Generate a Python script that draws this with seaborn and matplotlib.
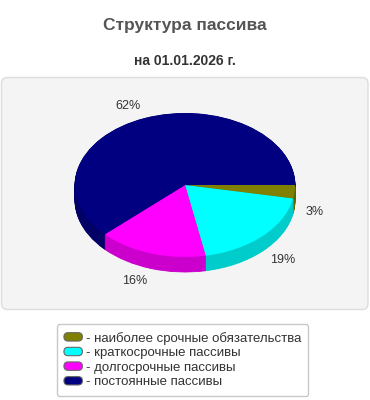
import numpy as np
import matplotlib
matplotlib.use("Agg")
import matplotlib.pyplot as plt
import seaborn as sns
from matplotlib.patches import FancyBboxPatch, Patch
from matplotlib.legend_handler import HandlerPatch

# ---- data ----
title = "Структура пассива"
subtitle = "на 01.01.2026 г."
categories = ["наиболее срочные обязательства", "краткосрочные пассивы",
              "долгосрочные пассивы", "постоянные пассивы"]
values = [3, 19, 16, 62]
top_colors = ["#808000", "#00FFFF", "#FF00FF", "#000080"]
side_colors = ["#666600", "#00CCCC", "#CC00CC", "#000066"]

sns.set_theme(style="white")
plt.rcParams["font.family"] = ["Liberation Sans", "DejaVu Sans"]

W, H = 370, 400
fig = plt.figure(figsize=(W / 100, H / 100), dpi=100)
fig.patch.set_facecolor("white")

# background axes in pixel coordinates
bg = fig.add_axes([0, 0, 1, 1])
bg.set_xlim(0, W)
bg.set_ylim(H, 0)
bg.axis("off")

bg.text(W / 2, 30, title, ha="center", va="baseline", fontsize=12.5,
        fontweight="bold", color="#555555")
bg.text(W / 2, 65, subtitle, ha="center", va="baseline", fontsize=10,
        fontweight="bold", color="#333333")

panel = FancyBboxPatch((1.5, 77.5), 366.5, 232, boxstyle="round,pad=0,rounding_size=6",
                       facecolor="#F4F4F4", edgecolor="#DDDDDD", linewidth=1)
bg.add_patch(panel)

# pie axes: 1 unit = 110 px horizontally, 72 px vertically, centre at (185, 185)
ax = fig.add_axes([0, 0, 1, 1])
ax.patch.set_alpha(0)
rx, ry = 110.0, 72.0
cx, cy = 185.0, 185.0
depth = 15.0 / ry

pal_top = sns.color_palette(top_colors)
pal_side = sns.color_palette(side_colors)

for off in np.linspace(depth, 0, 24)[:-1]:
    ax.pie(values, colors=pal_side, startangle=0, counterclock=False,
           center=(0, -off), radius=1,
           wedgeprops=dict(linewidth=0.6, edgecolor=None))
    for w, c in zip(ax.patches[-len(values):], pal_side):
        w.set_edgecolor(c)

ax.pie(values, colors=pal_top, startangle=0, counterclock=False,
       center=(0, 0), radius=1, wedgeprops=dict(linewidth=0))

ax.set_aspect("auto")
ax.set_xlim(-cx / rx, (W - cx) / rx)
ax.set_ylim(-(H - cy) / ry, cy / ry)
ax.axis("off")

# percentage labels
total = float(sum(values))
cum = 0.0
a_lab, b_lab = 1.10, 1.18
for v in values:
    theta = -np.deg2rad((cum + v / 2) / total * 360)
    cum += v
    x = a_lab * np.cos(theta)
    y = b_lab * np.sin(theta) - (depth if np.sin(theta) < 0 else 0)
    if abs(np.sin(theta)) < 0.2:
        y -= 0.06
    ax.text(x, y, f"{v / total * 100:.0f}%", ha="left" if np.cos(theta) > 0 else "right",
            va="center", fontsize=9, color="#333333")


class RoundSwatch(HandlerPatch):
    def create_artists(self, legend, orig_handle, xdescent, ydescent, width,
                       height, fontsize, trans):
        p = FancyBboxPatch((-xdescent, -ydescent), width, height,
                           boxstyle="round,pad=0,rounding_size=3",
                           facecolor=orig_handle.get_facecolor(),
                           edgecolor="#666666", linewidth=0.8, transform=trans)
        return [p]


# legend
handles = [Patch(facecolor=c) for c in top_colors]
labels = ["- " + c for c in categories]
leg = fig.legend(handles, labels, loc="center", bbox_to_anchor=(182.5 / W, 1 - 360 / H),
                 fontsize=9.5, frameon=True, fancybox=True, handlelength=1.4,
                 handleheight=0.6, handletextpad=0.25, labelspacing=0.2,
                 borderpad=0.55, borderaxespad=0, labelcolor="#333333",
                 handler_map={Patch: RoundSwatch()})
leg.get_frame().set_edgecolor("#BBBBBB")
leg.get_frame().set_linewidth(1)

fig.savefig("out.png", dpi=100)
